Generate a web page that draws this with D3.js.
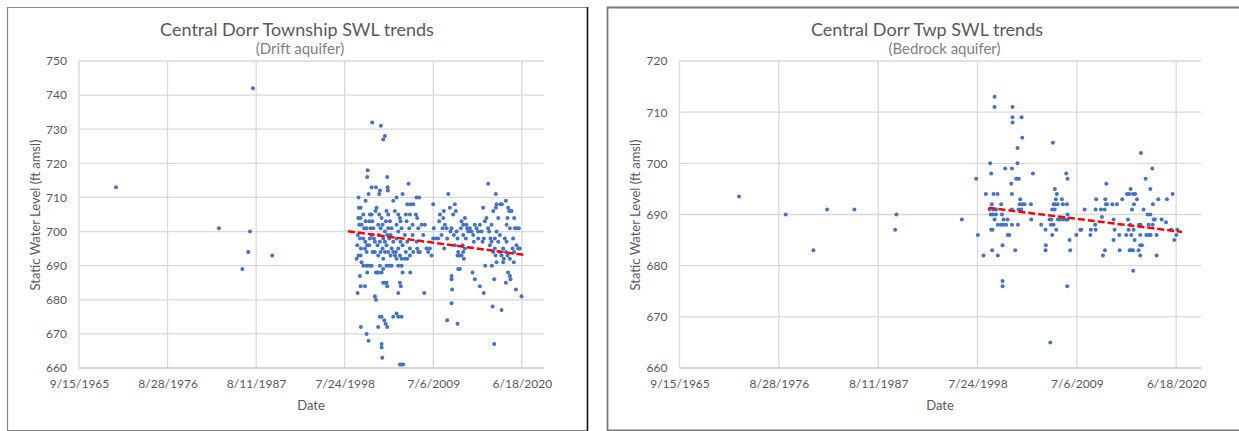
<!DOCTYPE html>
<html>
<head>
<meta charset="utf-8">
<script src="https://cdn.jsdelivr.net/npm/d3@7"></script>
<style>
body { margin: 0; background: #fff; }
</style>
</head>
<body>
<div id="chart"></div>
<script>
var svgWidth = 1239;
var svgHeight = 431;

// shared date axis
var xTickLabels = ["9/15/1965", "8/28/1976", "8/11/1987", "7/24/1998", "7/6/2009", "6/18/2020"];
var xDomainLabels = ["9/15/1965", "3/15/2023"];

var driftYTicks = [660, 670, 680, 690, 700, 710, 720, 730, 740, 750];
var bedrockYTicks = [660, 670, 680, 690, 700, 710, 720];

// [decimal year, static water level ft amsl]
var driftPoints = [
  [1970.28,713],[1987.21,742],[1983.01,701],[1986.84,700],[1986.63,694],[1989.6,693],[1985.9,689],
  [2000.15,682],[2000.56,672],[2000.44,687],[2000.52,684],[2001.06,684],[2000.27,710],[2000.31,707],[2000.52,707],
  [2000.23,704],[2000.52,704],[2000.36,702],[2000.64,702],[2000.19,699],[2000.44,698],[2000.11,696],[2000.56,695],
  [2000.27,693],[2000.03,692],[2000.52,693],[2000.64,691],[2000.85,690],[2001.14,709],[2001.26,670],[2001.51,668],
  [2001.34,716],[2001.39,718],[2001.51,711],[2000.85,705],[2001.14,703],[2000.97,701],[2001.26,701],[2000.85,698],
  [2001.1,697],[2001.34,696],[2001.06,695],[2001.26,694],[2001.26,690],[2001.59,690],[2001.88,690],[2001.67,705],
  [2001.88,705],[2001.59,703],[2001.96,703],[2001.76,701],[2002.09,701],[2001.88,699],[2002.17,698],[2001.67,698],
  [2002.29,697],[2001.59,696],[2002.0,694],[2002.29,694],[2001.34,688],[2002.42,688],[2002.29,681],[2002.42,680],
  [2002.7,688],[2002.62,688],[2001.88,713],[2002.42,713],[2002.91,712],[2002.83,711],[2001.96,732],[2003.03,731],
  [2003.32,727],[2003.53,728],[2003.82,716],[2003.86,713],[2003.9,712],[2002.91,675],[2003.12,675],[2002.7,672],
  [2003.12,667],[2003.12,666],[2003.2,663],[2002.5,707],[2002.37,706],[2002.83,705],[2003.12,704],[2002.7,702],
  [2003.24,702],[2002.99,701],[2003.53,700],[2002.75,699],[2003.32,698],[2002.91,697],[2003.53,697],[2002.62,696],
  [2003.24,695],[2002.99,694],[2003.53,694],[2002.7,693],[2003.32,692],[2002.91,690],[2003.73,690],[2003.32,689],
  [2003.12,688],[2003.73,706],[2003.94,705],[2003.65,703],[2004.15,703],[2003.94,701],[2004.35,701],[2003.82,699],
  [2004.23,699],[2004.06,698],[2004.56,697],[2003.73,696],[2004.35,695],[2003.94,694],[2004.56,694],[2004.23,693],
  [2004.76,693],[2004.06,690],[2004.35,690],[2003.32,685],[2003.53,685],[2003.73,685],[2003.82,684],[2003.45,674],
  [2003.61,673],[2003.82,672],[2004.56,675],[2004.97,676],[2005.18,675],[2005.59,675],[2005.38,661],[2005.59,661],
  [2005.79,661],[2004.56,709],[2004.97,710],[2005.18,705],[2004.76,706],[2005.38,704],[2004.97,702],[2005.46,703],
  [2005.18,700],[2005.59,701],[2004.97,698],[2005.46,697],[2005.18,695],[2005.71,696],[2004.89,694],[2005.38,693],
  [2004.97,692],[2005.59,692],[2006.0,692],[2006.29,692],[2005.18,690],[2005.59,690],[2005.71,688],[2005.38,685],
  [2005.5,684],[2005.18,682],[2006.45,714],[2005.71,711],[2006.29,708],[2006.7,708],[2007.03,708],[2007.44,710],
  [2007.77,710],[2006.12,705],[2006.62,705],[2007.36,705],[2007.52,704],[2006.21,703],[2006.95,702],[2006.54,701],
  [2007.65,701],[2006.0,699],[2006.95,699],[2006.29,697],[2007.44,697],[2006.62,695],[2007.52,695],[2006.12,694],
  [2007.03,694],[2007.85,694],[2006.62,693],[2007.65,694],[2006.66,688],[2008.39,682],[2008.06,702],[2008.47,702],
  [2008.27,699],[2008.68,695],[2009.09,695],[2008.88,694],[2009.3,693],[2009.5,708],[2009.58,701],[2009.83,698],
  [2010.12,698],[2009.5,698],[2010.33,705],[2010.24,703],[2010.82,706],[2010.74,704],[2010.94,702],[2011.15,701],
  [2010.66,701],[2010.53,699],[2010.86,695],[2011.23,698],[2011.36,711],[2011.56,707],[2011.77,701],[2011.64,700],
  [2011.97,705],[2012.18,708],[2012.3,706],[2012.06,699],[2012.39,700],[2012.51,698],[2012.18,696],[2012.59,694],
  [2012.72,693],[2012.51,693],[2012.8,689],[2012.59,689],[2011.77,687],[2011.77,686],[2011.85,683],[2011.77,679],
  [2011.23,674],[2012.51,673],[2013.0,703],[2013.21,702],[2012.92,701],[2013.42,704],[2013.62,702],[2013.7,701],
  [2013.21,699],[2013.54,698],[2013.83,700],[2013.13,696],[2013.42,695],[2013.21,694],[2013.0,693],[2013.29,692],
  [2014.36,688],[2014.65,686],[2015.27,684],[2015.76,682],[2014.03,701],[2014.24,700],[2014.45,699],[2014.65,702],
  [2014.86,701],[2015.06,700],[2014.53,697],[2015.06,698],[2015.27,702],[2015.48,700],[2015.68,707],[2015.89,703],
  [2016.09,704],[2015.76,698],[2015.6,697],[2015.93,690],[2016.3,714],[2016.3,701],[2016.42,700],[2016.59,698],
  [2016.75,690],[2016.71,697],[2016.51,696],[2016.84,678],[2017.04,667],[2017.04,686],[2016.92,694],[2017.12,695],
  [2016.71,702],[2016.92,706],[2017.25,707],[2017.25,711],[2017.33,708],[2017.54,704],[2017.33,700],[2017.12,698],
  [2017.54,697],[2017.74,699],[2017.33,691],[2017.21,693],[2017.74,694],[2017.82,708],[2017.99,708],[2018.48,709],
  [2017.95,677],[2018.15,691],[2018.24,692],[2017.95,693],[2018.36,698],[2018.57,697],[2018.15,695],[2018.77,707],
  [2018.9,706],[2019.18,706],[2018.57,702],[2018.69,704],[2018.98,701],[2018.48,694],[2018.69,693],[2018.98,692],
  [2018.77,688],[2018.98,687],[2019.06,686],[2018.48,685],[2019.51,704],[2019.6,701],[2019.39,698],[2019.31,695],
  [2019.51,694],[2019.47,691],[2019.72,683],[2019.8,701],[2020.09,701],[2019.8,696],[2020.01,695],[2020.21,695],
  [2020.42,681]
];

var bedrockPoints = [
  [1972.27,693.5],[1977.42,690],[1980.47,683],[1981.98,691],[1984.99,691],[1989.62,690],[1989.48,687],[1996.83,689],
  [1998.41,697],[1998.6,686],[1999.22,682],[1999.48,694],[1999.96,700],[2000.07,698],[2000.33,694],[2000.77,694],
  [1999.89,691],[2000.14,692],[2000.33,691],[2000.62,691],[2000.03,690],[2000.25,690],[2000.58,690],[2000.44,689],
  [2000.8,688],[2001.14,688],[2001.43,688],[2001.72,688],[2000.07,687],[2000.22,687],[2000.18,683],[2000.8,682],
  [2001.17,692],[2001.25,690],[2001.43,689],[2001.87,689],[2001.91,686],[2002.06,686],[2001.32,684],[2001.32,677],
  [2001.32,676],[2001.61,699],[2002.35,699],[2000.44,713],[2000.44,711],[2002.42,711],[2002.42,709],[2002.42,708],
  [2003.42,709],[2003.49,705],[2002.97,703],[2002.97,700],[2002.28,696],[2002.35,694],[2002.83,697],[2003.12,697],
  [2003.27,693],[2003.2,692],[2003.49,692],[2003.75,692],[2003.09,691],[2003.38,691],[2002.35,688],[2003.01,688],
  [2002.72,683],[2002.35,691],[2004.45,692],[2004.48,689],[2004.67,698],[2005.58,688],[2006.06,687],[2006.1,684],
  [2006.06,683],[2006.58,665],[2006.87,704],[2007.09,695],[2007.31,694],[2007.2,693],[2006.95,692],[2007.13,692],
  [2007.39,692],[2006.8,691],[2007.06,691],[2006.5,689],[2006.69,689],[2007.42,689],[2006.65,688],[2006.95,688],
  [2007.24,687],[2006.8,686],[2007.86,693],[2007.97,692],[2007.68,689],[2008.05,689],[2008.34,689],[2008.34,698],
  [2008.49,697],[2008.42,692],[2008.49,690],[2008.49,689],[2008.71,685],[2008.78,683],[2008.45,676],[2009.45,686],
  [2009.89,687],[2010.0,687],[2010.37,691],[2011.0,686],[2011.06,687],[2011.54,688],[2011.58,687],[2011.58,691],
  [2011.65,693],[2012.17,691],[2012.28,689.5],[2012.39,682],[2012.61,683],[2012.57,691],[2012.65,693],[2012.72,692],
  [2012.83,692],[2012.76,696],[2013.42,692],[2013.93,692],[2013.56,689],[2013.67,687],[2013.56,685],[2014.19,686],
  [2014.23,683],[2014.52,693],[2015.04,694],[2015.29,694],[2015.44,695],[2015.7,694],[2015.95,694],[2015.81,692],
  [2016.14,693],[2015.59,691],[2015.15,689],[2015.4,688],[2015.22,687],[2015.77,687],[2014.96,686],[2015.51,686],
  [2015.88,685],[2015.33,683],[2015.51,683],[2015.7,683],[2015.73,679],[2016.36,688],[2016.54,688],[2016.5,686],
  [2016.5,684],[2016.69,684],[2016.32,683],[2016.5,682],[2016.58,702],[2016.87,691],[2017.09,697],[2017.17,686],
  [2017.31,690],[2017.61,690],[2017.42,688],[2017.42,686],[2017.65,686],[2017.61,695],[2017.83,699],[2017.9,692],
  [2017.98,689],[2018.12,689],[2017.87,688],[2018.31,686],[2018.31,682],[2018.49,693],[2018.86,689],[2019.34,688.5],
  [2019.45,693],[2020.07,694],[2019.92,687],[2020.26,685],[2020.48,686],[2020.59,687]
];

// linear trend end points
var driftTrend = [[1998.96, 700.1], [2020.95, 693.1]];
var bedrockTrend = [[1999.78, 691.3], [2021.1, 686.6]];

var parseDate = d3.timeParse("%m/%d/%Y");
var xTickDates = xTickLabels.map(parseDate);
var xDomain = xDomainLabels.map(parseDate);

function yearToDate(yr) {
  var y0 = Math.floor(yr);
  var start = new Date(y0, 0, 1);
  var end = new Date(y0 + 1, 0, 1);
  return new Date(+start + (yr - y0) * (end - start));
}

var font = "Lato, 'Open Sans', sans-serif";

var svg = d3.select("#chart")
  .append("svg")
  .attr("width", svgWidth)
  .attr("height", svgHeight)
  .style("background", "#fff");

// chart frames
svg.append("path")
  .attr("d", "M587,7.5 H7.5 V430.5 H587")
  .attr("fill", "none")
  .attr("stroke", "#8a8a8a")
  .attr("stroke-width", 1.2);
svg.append("line")
  .attr("x1", 587.5).attr("x2", 587.5).attr("y1", 7).attr("y2", 431)
  .attr("stroke", "#111").attr("stroke-width", 1.6);
svg.append("path")
  .attr("d", "M1239,7.5 H607.5 V430.5 H1239")
  .attr("fill", "none")
  .attr("stroke", "#7a7a7a")
  .attr("stroke-width", 1.8);

function drawPanel(p) {
  var top = 61, bottom = 368;
  var x = d3.scaleTime().domain(xDomain).range([p.left, p.right]);
  var y = d3.scaleLinear().domain([p.yTicks[0], p.yTicks[p.yTicks.length - 1]]).range([bottom, top]);
  var g = svg.append("g");

  g.selectAll(".hgrid")
    .data(p.yTicks.slice(1))
    .enter()
    .append("line")
    .attr("x1", p.left).attr("x2", p.right)
    .attr("y1", d => y(d)).attr("y2", d => y(d))
    .attr("stroke", "#d9d9d9")
    .attr("stroke-width", 1.3);

  g.selectAll(".vgrid")
    .data(xTickDates)
    .enter()
    .append("line")
    .attr("x1", d => x(d)).attr("x2", d => x(d))
    .attr("y1", top).attr("y2", bottom)
    .attr("stroke", "#d9d9d9")
    .attr("stroke-width", 1.3);

  g.append("line")
    .attr("x1", p.left).attr("x2", p.right)
    .attr("y1", bottom).attr("y2", bottom)
    .attr("stroke", "#c8c8c8")
    .attr("stroke-width", 1.3);

  var leftAxis = g.append("g")
    .attr("transform", `translate(${p.left},0)`)
    .call(d3.axisLeft(y).tickValues(p.yTicks).tickSize(0).tickPadding(12));
  leftAxis.select(".domain").remove();
  leftAxis.selectAll("text")
    .attr("fill", "#595959")
    .style("font-family", font)
    .style("font-size", "12px");

  var bottomAxis = g.append("g")
    .attr("transform", `translate(0,${bottom})`)
    .call(d3.axisBottom(x).tickValues(xTickDates).tickFormat((d, i) => xTickLabels[i]).tickSize(0).tickPadding(11));
  bottomAxis.select(".domain").remove();
  bottomAxis.selectAll("text")
    .attr("fill", "#595959")
    .style("font-family", font)
    .style("font-size", "12px");

  g.selectAll("circle")
    .data(p.points)
    .enter()
    .append("circle")
    .attr("cx", d => x(yearToDate(d[0])))
    .attr("cy", d => y(d[1]))
    .attr("r", 2)
    .attr("fill", "#4472C4");

  var trendLine = d3.line()
    .x(d => x(yearToDate(d[0])))
    .y(d => y(d[1]));
  g.append("path")
    .datum(p.trend)
    .attr("d", trendLine)
    .attr("fill", "none")
    .attr("stroke", "#FF0000")
    .attr("stroke-width", 2.5)
    .attr("stroke-dasharray", "7,3");

  g.append("text")
    .attr("x", p.titleX).attr("y", 36)
    .attr("text-anchor", "middle")
    .attr("fill", "#595959")
    .style("font-family", font)
    .style("font-size", "18px")
    .text(p.title);

  g.append("text")
    .attr("x", p.subX).attr("y", 53.5)
    .attr("text-anchor", "middle")
    .attr("fill", "#7f7f7f")
    .style("font-family", font)
    .style("font-size", "15px")
    .text(p.subtitle);

  g.append("text")
    .attr("x", p.dateX).attr("y", 410)
    .attr("text-anchor", "middle")
    .attr("fill", "#595959")
    .style("font-family", font)
    .style("font-size", "13px")
    .text("Date");

  g.append("text")
    .attr("transform", `translate(${p.yTitleX},215) rotate(-90)`)
    .attr("text-anchor", "middle")
    .attr("dy", "0.35em")
    .attr("fill", "#595959")
    .style("font-family", font)
    .style("font-size", "13px")
    .text("Static Water Level (ft amsl)");
}

drawPanel({
  left: 79, right: 544,
  yTicks: driftYTicks,
  points: driftPoints,
  trend: driftTrend,
  title: "Central Dorr Township SWL trends",
  subtitle: "(Drift aquifer)",
  titleX: 297, subX: 300, dateX: 311, yTitleX: 35.5
});

drawPanel({
  left: 679.5, right: 1201,
  yTicks: bedrockYTicks,
  points: bedrockPoints,
  trend: bedrockTrend,
  title: "Central Dorr Twp SWL trends",
  subtitle: "(Bedrock aquifer)",
  titleX: 927, subX: 944.5, dateX: 940, yTitleX: 635
});
</script>
</body>
</html>
